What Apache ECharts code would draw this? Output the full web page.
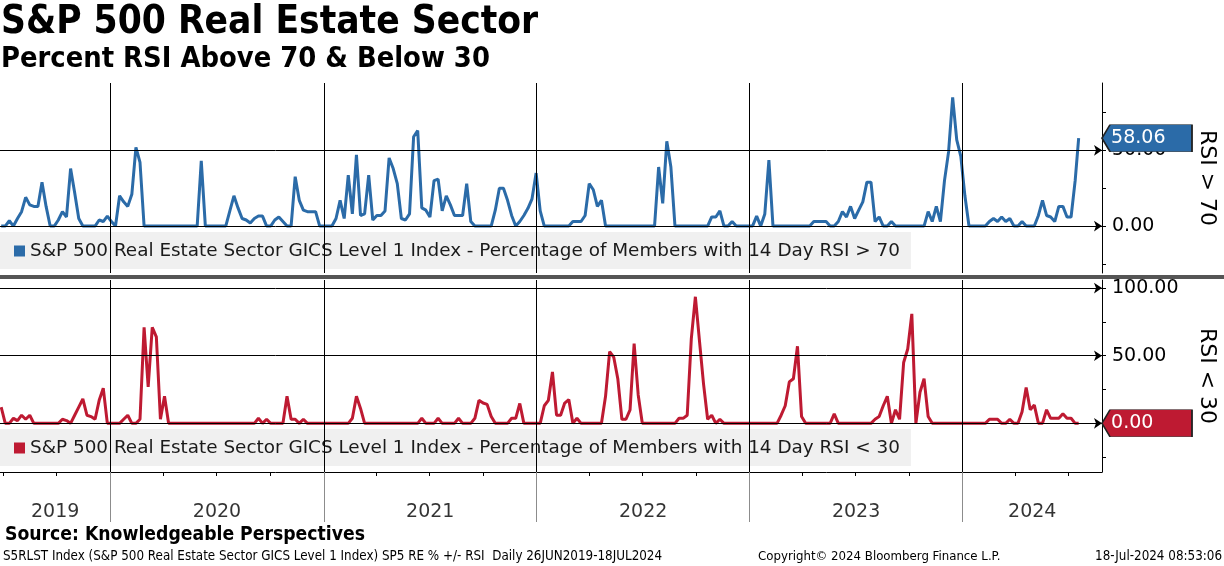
<!DOCTYPE html>
<html><head><meta charset="utf-8">
<script src="https://cdn.jsdelivr.net/npm/echarts@6/dist/echarts.min.js"></script>
<style>html,body{margin:0;padding:0;background:#fff}#c{width:1224px;height:566px}</style>
</head><body><div id="c"></div>
<script>
// ---- data (weekly readings from 28 Jun 2019, last point 18 Jul 2024) ----
const firstWeek = '2019-06-28';
const lastDate = '2024-07-18';
const axisStart = '2019-06-26';
const axisEnd = '2024-08-27';
const yearLabels = ['2019', '2020', '2021', '2022', '2023', '2024'];
const yearStarts = ['2019-01-01', '2020-01-01', '2021-01-01', '2022-01-01', '2023-01-01', '2024-01-01', '2025-01-01'];
const topLabelValues = [0, 50];
const topTickValues = [-25, 0, 25, 50, 75];
const botLabelValues = [0, 50, 100];
const botTickValues = [-25, 0, 25, 50, 75, 100];

const rsiAbove70 = [
  0, 0, 3.5, 0, 5, 9.5, 19, 14, 13, 13,
  29, 13, 0, 0, 4, 9.5, 6, 38, 22, 5,
  0, 0, 0, 0, 4, 3, 6.6, 3, 0, 20,
  16, 13, 21, 52, 42, 0, 0, 0, 0, 0,
  0, 0, 0, 0, 0, 0, 0, 0, 0, 43,
  0, 0, 0, 0, 0, 0, 10, 20, 12, 5,
  4, 2, 5, 6.6, 6.6, 0, 0, 4, 6, 3,
  0, 0, 32.6, 17, 10.5, 9.5, 9.5, 9.5, 0, 0,
  0, 0, 5, 17, 5, 33.7, 8, 47, 7, 8,
  33.7, 4, 7, 7, 10, 45, 38, 28, 5, 4,
  8, 59, 63, 12, 10.5, 6, 30, 31, 10, 20,
  14, 7, 7, 7, 28, 3, 0, 0, 0, 0,
  0, 10.5, 25, 25, 17, 7, 0, 3, 7, 11.7,
  18, 35, 10, 0, 0, 0, 0, 0, 0, 0,
  3, 3, 3, 7, 28, 24, 13, 17, 0, 0,
  0, 0, 0, 0, 0, 0, 0, 0, 0, 0,
  0, 39, 15, 56, 39, 0, 0, 0, 0, 0,
  0, 0, 0, 0, 6, 6, 10, 0, 0, 3,
  0, 0, 0, 0, 0, 6.6, 0, 8, 43.5, 0,
  0, 0, 0, 0, 0, 0, 0, 0, 0, 3,
  3, 3, 3, 0, 0, 3, 9.5, 6, 13, 5,
  10.5, 16, 29, 29, 3, 6, 0, 0, 3, 0,
  0, 0, 0, 0, 0, 0, 0, 9.5, 3, 13,
  3, 30, 49, 85, 57, 46, 20, 0, 0, 0,
  0, 0, 3, 5, 3, 6, 3, 5, 0, 0,
  3, 0, 0, 0, 7, 17, 7, 6, 3, 13,
  13, 6, 6, 30
];
const rsiBelow30 = [
  12, 0, 0, 3.7, 2, 6, 3, 6, 0, 0,
  0, 0, 0, 0, 0, 3, 2, 0, 6, 12,
  18, 6, 5, 3, 17, 26, 0, 0, 0, 0,
  3, 6, 0, 0, 3, 71, 27, 71, 64, 3,
  20, 0, 0, 0, 0, 0, 0, 0, 0, 0,
  0, 0, 0, 0, 0, 0, 0, 0, 0, 0,
  0, 0, 0, 3.7, 0, 3, 0, 0, 0, 0,
  20, 3, 3, 0, 3, 0, 0, 0, 0, 0,
  0, 0, 0, 0, 0, 0, 3.7, 20, 11, 0,
  0, 0, 0, 0, 0, 0, 0, 0, 0, 0,
  0, 0, 0, 3.7, 0, 0, 0, 3.7, 0, 0,
  0, 0, 3.7, 0, 0, 0, 3.7, 17, 15, 14,
  5, 0, 0, 0, 0, 3.7, 3.7, 14.7, 0, 0,
  0, 0, 0, 13, 17, 38, 6, 6, 15, 17.6,
  0, 3.7, 0, 0, 0, 0, 0, 0, 20, 53,
  49, 33, 3, 3, 10, 59, 21, 0, 0, 0,
  0, 0, 0, 0, 0, 0, 3.7, 3.7, 6, 62.5,
  93.6, 61, 29, 3, 6, 0, 3, 0, 0, 0,
  0, 0, 0, 0, 0, 0, 0, 0, 0, 0,
  0, 6, 13, 30.6, 33, 57, 5, 0, 0, 0,
  0, 0, 0, 0, 7, 0, 0, 0, 0, 0,
  0, 0, 0, 0, 3, 5, 13, 20, 0, 10,
  3, 45, 55, 81, 0, 23, 33, 5, 0, 0,
  0, 0, 0, 0, 0, 0, 0, 0, 0, 0,
  0, 0, 3, 3, 3, 0, 0, 3, 0, 0,
  8.6, 26.5, 10, 13.5, 0, 0, 10, 3.7, 3.7, 3.7,
  7, 3.7, 3.7, 0
];
const lastAbove70 = 58.06;
const lastBelow30 = 0.00;

const nameAbove = 'S&P 500 Real Estate Sector GICS Level 1 Index - Percentage of Members with 14 Day RSI > 70';
const nameBelow = 'S&P 500 Real Estate Sector GICS Level 1 Index - Percentage of Members with 14 Day RSI < 30';

// ---- helpers ----
function ts(s) { const p = s.split('-').map(Number); return new Date(p[0], p[1] - 1, p[2]).getTime(); }
function weekTs(i) { const p = firstWeek.split('-').map(Number); return new Date(p[0], p[1] - 1, p[2] + 7 * i).getTime(); }
function build(vals, last) {
  const out = vals.map((v, i) => [weekTs(i), v]);
  out.push([ts(lastDate), last]);
  return out;
}
const xMin = ts(axisStart), xMax = ts(axisEnd);
const quarterTicks = [];
for (let y = 2019; y <= 2024; y++) for (let m = 0; m < 12; m += 3) {
  const t = new Date(y, m, 1).getTime();
  if (t >= xMin && t <= xMax) quarterTicks.push(t);
}
const yearLines = yearStarts.map(ts).filter(t => t > xMin && t < xMax);
const yearLabelData = yearLabels.map((lab, k) => {
  const s = Math.max(ts(yearStarts[k]), xMin), e = Math.min(ts(yearStarts[k + 1]), xMax);
  return [(s + e) / 2, 0.2, lab];
});

const FONT = 'DejaVu Sans';
const FONTC = 'DejaVu Sans Condensed';
const BLUE = '#2b6ba8', RED = '#be1a32';
const tagPath = 'path://M0,13.5L8,0L90,0L90,27L8,27Z';

function yAx(grid, min, max, ticks, labels, name) {
  return {
    type: 'value', gridIndex: grid, position: 'right', min: min, max: max,
    splitLine: { show: false },
    axisLine: { show: true, lineStyle: { color: '#000', width: 1 } },
    axisTick: { show: true, customValues: ticks, length: 4, lineStyle: { color: '#000' } },
    axisLabel: {
      show: true, customValues: labels, formatter: v => Number(v).toFixed(2),
      color: '#000', fontSize: 19, fontFamily: FONT, margin: 10,
      verticalAlign: 'middle'
    },
    name: name, nameLocation: 'middle', nameRotate: -90, nameGap: 94,
    nameTextStyle: { fontSize: 22, fontFamily: FONT, color: '#000' }
  };
}
function gridLines(vals) {
  return {
    silent: true, symbol: ['none', 'arrow'], symbolSize: 8,
    label: { show: false },
    lineStyle: { color: '#000', width: 1, type: 'solid' },
    emphasis: { disabled: true },
    data: vals.map(v => ({ yAxis: v }))
  };
}
function yearMark(color) {
  return {
    silent: true, symbol: ['none', 'none'], label: { show: false },
    lineStyle: { color: color, width: 1, type: 'solid' },
    emphasis: { disabled: true },
    data: yearLines.map(t => ({ xAxis: t }))
  };
}
function tag(value, color) {
  return {
    silent: true,
    data: [{ coord: [xMax, value], value: value }],
    symbol: tagPath, symbolSize: [90, 27], symbolOffset: [45, 0],
    itemStyle: { color: color, borderColor: '#222', borderWidth: 1 },
    label: { show: true, position: 'insideLeft', distance: 10, formatter: value.toFixed(2), color: '#fff', fontSize: 19, fontFamily: FONT }
  };
}
function legend(name, top) {
  return {
    data: [name], left: 0, top: top, orient: 'horizontal', selectedMode: false,
    backgroundColor: '#f0f0f0', padding: [10, 11, 9, 14], borderRadius: 0,
    icon: 'rect', itemWidth: 11, itemHeight: 11, itemGap: 5,
    textStyle: { fontSize: 18.4, fontFamily: FONT, color: '#1a1a1a' }
  };
}
const xBase = { type: 'time', min: xMin, max: xMax, splitLine: { show: false } };

const option = {
  backgroundColor: '#fff',
  animation: false,
  title: [
    { text: 'S&P 500 Real Estate Sector', left: 1, top: 3, padding: 0, textStyle: { fontSize: 38.5, fontWeight: 'bold', fontFamily: FONTC, color: '#000' } },
    { text: 'Percent RSI Above 70 & Below 30', left: 1, top: 45, padding: 0, textStyle: { fontSize: 28.8, fontWeight: 'bold', fontFamily: FONTC, color: '#000' } },
    { text: 'Source: Knowledgeable Perspectives', left: 5, top: 526, padding: 0, textStyle: { fontSize: 19.2, fontWeight: 'bold', fontFamily: FONTC, color: '#000' } },
    { text: 'S5RLST Index (S&P 500 Real Estate Sector GICS Level 1 Index) SP5 RE % +/- RSI  Daily 26JUN2019-18JUL2024', left: 3, top: 550, padding: 0, textStyle: { fontSize: 13.3, fontWeight: 'normal', fontFamily: FONTC, color: '#000' } },
    { text: 'Copyright\u00a9 2024 Bloomberg Finance L.P.', left: 758, top: 550, padding: 0, textStyle: { fontSize: 13.1, fontWeight: 'normal', fontFamily: FONTC, color: '#000' } },
    { text: '18-Jul-2024 08:53:06', right: 2, top: 550, padding: 0, textStyle: { fontSize: 13.3, fontWeight: 'normal', fontFamily: FONTC, color: '#000' } }
  ],
  legend: [legend(nameAbove, 232), legend(nameBelow, 429)],
  grid: [
    { left: 0, right: 122, top: 83, height: 190, containLabel: false, outerBoundsMode: 'none' },
    { left: 0, right: 122, top: 280, height: 192, containLabel: false, outerBoundsMode: 'none' },
    { left: 0, right: 122, top: 472, height: 50, containLabel: false, outerBoundsMode: 'none' }
  ],
  xAxis: [
    Object.assign({ gridIndex: 0, show: false }, xBase),
    Object.assign({ gridIndex: 1, show: true,
      axisLine: { show: true, onZero: false, lineStyle: { color: '#000', width: 1 } },
      axisTick: { show: true, customValues: quarterTicks, length: 4, lineStyle: { color: '#000' } },
      axisLabel: { show: false } }, xBase),
    Object.assign({ gridIndex: 2, show: false }, xBase)
  ],
  yAxis: [
    yAx(0, -31, 94.5, topTickValues, topLabelValues, 'RSI > 70'),
    yAx(1, -36, 106, botTickValues, botLabelValues, 'RSI < 30'),
    { type: 'value', gridIndex: 2, min: 0, max: 1, show: false }
  ],
  series: [
    { type: 'line', name: 'yearsTop', xAxisIndex: 0, yAxisIndex: 0, data: [], markLine: yearMark('#000'), silent: true },
    { type: 'line', name: 'yearsBot', xAxisIndex: 1, yAxisIndex: 1, data: [], markLine: yearMark('#000'), silent: true },
    {
      type: 'line', name: nameAbove, xAxisIndex: 0, yAxisIndex: 0, data: build(rsiAbove70, lastAbove70),
      showSymbol: false, color: BLUE, lineStyle: { width: 3, color: BLUE }, silent: true,
      markLine: gridLines(topLabelValues), markPoint: tag(lastAbove70, BLUE), z: 3
    },
    {
      type: 'line', name: nameBelow, xAxisIndex: 1, yAxisIndex: 1, data: build(rsiBelow30, lastBelow30),
      showSymbol: false, color: RED, lineStyle: { width: 3, color: RED }, silent: true,
      markLine: gridLines(botLabelValues), markPoint: tag(lastBelow30, RED), z: 3
    },
    {
      type: 'scatter', name: 'years', xAxisIndex: 2, yAxisIndex: 2, data: yearLabelData,
      symbolSize: 0, silent: true,
      label: { show: true, position: 'inside', formatter: p => p.data[2], color: '#000', fontSize: 19, fontFamily: FONT },
      markLine: yearMark('#8c8c8c')
    }
  ],
  graphic: [
    { type: 'rect', left: 0, top: 275, shape: { width: 1224, height: 4 }, style: { fill: '#555' }, silent: true }
  ]
};
const chart = echarts.init(document.getElementById('c'), null, { renderer: 'canvas' });
chart.setOption(option);
</script>
</body></html>
